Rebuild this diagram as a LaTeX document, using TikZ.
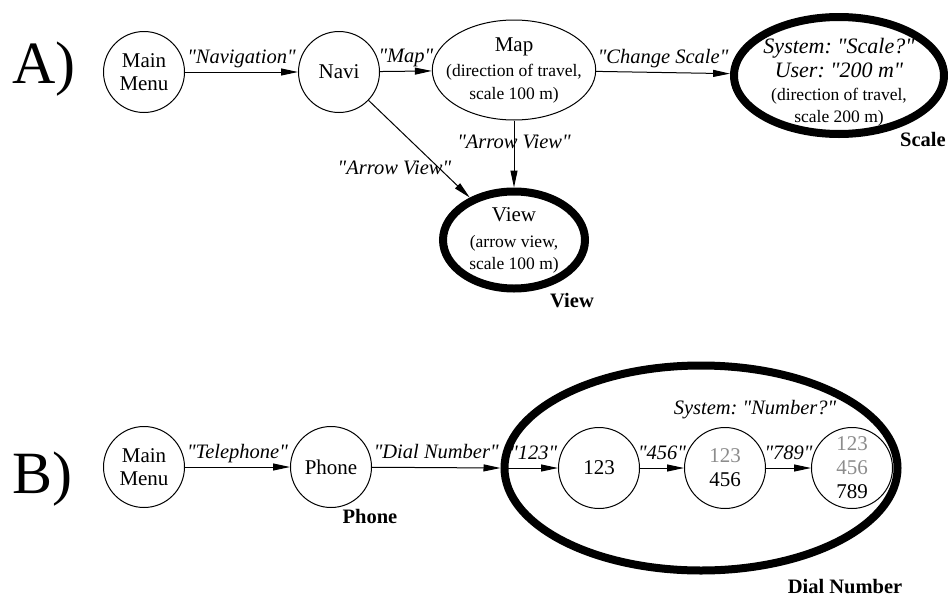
\documentclass[tikz,border=0pt]{standalone}
\usepackage{fontspec}
\setmainfont{Liberation Serif}[Ligatures=TeXOff]
\usetikzlibrary{arrows.meta,shapes.geometric}
\frenchspacing

\newcommand{\mainsize}{\fontsize{21}{24}\selectfont}
\newcommand{\smallsize}{\fontsize{17.5}{20}\selectfont}
\newcommand{\lblsize}{\fontsize{20.5}{24}\selectfont}
\newcommand{\asksize}{\fontsize{22}{24}\selectfont}
\newcommand{\partsize}{\fontsize{60}{60}\selectfont}
\definecolor{oldnum}{gray}{0.55}

\tikzset{
  state/.style={draw, circle, line width=1pt, minimum size=81pt, inner sep=0pt, align=center, font=\mainsize},
  oval/.style={draw, ellipse, line width=1pt, inner sep=-10pt, align=center, font=\mainsize},
  goal/.style={oval, line width=8pt},
  lbl/.style={font=\lblsize\itshape, inner sep=0pt, anchor=base},
  tag/.style={font=\lblsize\bfseries, inner sep=0pt, anchor=base},
  edge/.style={line width=1pt, -{Triangle[length=17pt,width=7pt]}},
}

\begin{document}
\begin{tikzpicture}[x=1pt, y=-1pt]
    \useasboundingbox (0,0) rectangle (948,600);

    % A) Navigation
    \node[font=\partsize, anchor=base west, inner sep=0pt] (parta) at (12,83) {A)};

    \node[state] (menua) at (144,72) {Main\\[-1pt]Menu};
    \node[state] (navi) at (339,72) {Navi};
    \node[oval, minimum width=161pt, minimum height=100pt] (map) at (514,70)
        {Map\\[1pt]\smallsize (direction of travel,\\[-1pt]\smallsize scale 100 m)};
    \node[goal, minimum width=210pt, minimum height=117pt] (scale) at (839,75.5)
        {\rule{0pt}{28pt}\asksize\itshape System: "Scale?"\\\asksize\itshape User: "200 m"\\[-1pt]\smallsize (direction of travel,\\[-2pt]\smallsize scale 200 m)};
    \node[goal, minimum width=142pt, minimum height=97pt] (view) at (514,240)
        {View\\[2pt]\smallsize (arrow view,\\[-2pt]\smallsize scale 100 m)};

    \draw[edge] (menua) -- node[lbl, midway, yshift=9pt] {"Navigation"} (navi);
    \draw[edge] (navi) -- node[lbl, midway, yshift=9pt] {"Map"} (map);
    \draw[edge] (map) -- node[lbl, midway, yshift=9pt] {"Change Scale"} (scale);
    \draw[edge] (map) -- node[lbl, midway, anchor=center, yshift=12pt] {"Arrow View"} (view);
    \draw[edge] (navi) -- node[lbl, pos=0.69, anchor=center, xshift=-44pt] {"Arrow View"} (view);

    \node[tag] (scaletag) at (923,146) {Scale};
    \node[tag] (viewtag) at (572,307) {View};

    % B) Telephone
    \node[font=\partsize, anchor=base west, inner sep=0pt] (partb) at (12,493) {B)};

    \node[state] (menub) at (144,467) {Main\\[-1pt]Menu};
    \node[state] (phone) at (331,467) {Phone};
    \node[goal, minimum width=393pt, minimum height=205pt] (dial) at (701,468) {};
    \node[state] (n123) at (599,468) {123};
    \node[state] (n456) at (725,468) {{\color{oldnum}123}\\456};
    \node[state] (n789) at (852,468) {{\color{oldnum}123}\\{\color{oldnum}456}\\789};
    \node[lbl] (ask) at (755,414) {System: "Number?"};

    \draw[edge] (menub) -- node[lbl, midway, yshift=9pt] {"Telephone"} (phone);
    \draw[edge] (phone) -- node[lbl, midway, yshift=9pt] {"Dial Number"} (dial.west);
    \draw[edge] (dial.west) -- node[lbl, midway, yshift=9pt, xshift=4pt] {"123"} (n123);
    \draw[edge] (n123) -- node[lbl, midway, yshift=9pt] {"456"} (n456);
    \draw[edge] (n456) -- node[lbl, midway, yshift=9pt] {"789"} (n789);

    \node[tag] (phonetag) at (370,523) {Phone};
    \node[tag] (dialtag) at (845,593) {Dial Number};
\end{tikzpicture}
\end{document}
